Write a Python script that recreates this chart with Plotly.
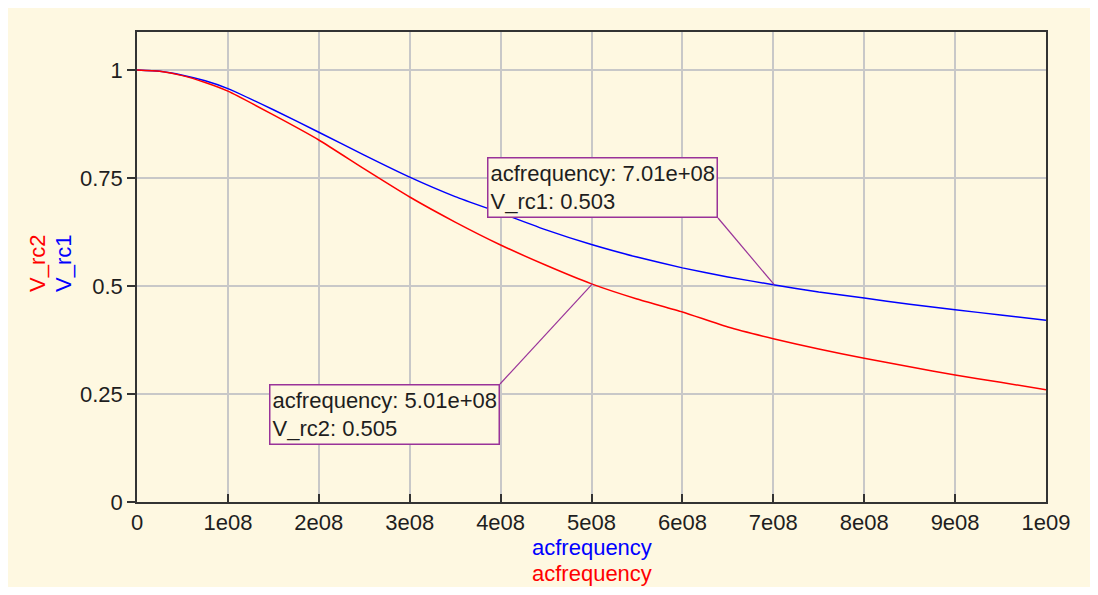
import plotly.graph_objects as go

# ---- data ----
acfrequency = [0, 0.25e8, 0.5e8, 0.75e8, 1e8, 1.5e8, 2e8, 2.5e8, 3e8, 3.5e8, 4e8, 4.5e8, 5e8,
               5.5e8, 6e8, 6.5e8, 7e8, 7.5e8, 8e8, 8.5e8, 9e8, 9.5e8, 1e9]
V_rc1 = [1.0, 0.997, 0.988, 0.975, 0.957, 0.908, 0.856, 0.803, 0.752, 0.707, 0.669, 0.630, 0.596,
         0.567, 0.542, 0.521, 0.503, 0.486, 0.472, 0.458, 0.445, 0.433, 0.421]
V_rc2 = [1.0, 0.997, 0.987, 0.971, 0.951, 0.896, 0.838, 0.771, 0.706, 0.648, 0.595, 0.548, 0.505,
         0.470, 0.440, 0.405, 0.378, 0.354, 0.333, 0.313, 0.294, 0.277, 0.260]

x_tickvals = [0, 1e8, 2e8, 3e8, 4e8, 5e8, 6e8, 7e8, 8e8, 9e8, 1e9]
x_ticktext = ["0", "1e08", "2e08", "3e08", "4e08", "5e08", "6e08", "7e08", "8e08", "9e08", "1e09"]
y_tickvals = [0, 0.25, 0.5, 0.75, 1]
y_ticktext = ["0", "0.25", "0.5", "0.75", "1"]

marker1 = (7.01e8, 0.503)   # V_rc1 marker
marker2 = (5.01e8, 0.505)   # V_rc2 marker

BG = "#FEF8E1"
FONT = "Liberation Sans, Arial, sans-serif"
FS = 22
TXT = "#1e1e1e"
BOX = "#993399"

fig = go.Figure()
fig.add_trace(go.Scatter(x=acfrequency, y=V_rc1, mode="lines", name="V_rc1",
                         line=dict(color="#0000FF", width=1.5, shape="spline", smoothing=0.5)))
fig.add_trace(go.Scatter(x=acfrequency, y=V_rc2, mode="lines", name="V_rc2",
                         line=dict(color="#FF0000", width=1.5, shape="spline", smoothing=0.5)))

# page has an 8px body margin; work in screen pixels
OFF = 8
W, H = 1098 - 2 * OFF, 595 - 2 * OFF
PL, PR, PT, PB = 137, 1046, 32, 502          # plot-area edges in screen px
L, T = PL - OFF, PT - OFF
R = W + OFF - PR
B = H + OFF - PB
ymax = 1.088

def px2paper(px, py):
    return (px - PL) / (PR - PL), (PB - py) / (PB - PT)

def px2data(px, py):
    return (px - PL) / (PR - PL) * 1e9, (PB - py) / (PB - PT) * ymax

c1 = px2data(718, 218)
c2 = px2data(500, 384)
shapes = [
    dict(type="line", xref="x", yref="y", x0=c1[0], y0=c1[1], x1=marker1[0], y1=marker1[1],
         line=dict(color=BOX, width=1.2)),
    dict(type="line", xref="x", yref="y", x0=c2[0], y0=c2[1], x1=marker2[0], y1=marker2[1],
         line=dict(color=BOX, width=1.2)),
]

annotations = [
    dict(x=c1[0], y=c1[1], xref="x", yref="y", xanchor="right", yanchor="bottom",
         text="acfrequency: 7.01e+08<br>V_rc1: %.3f" % marker1[1],
         align="left", showarrow=False, bgcolor=BG, bordercolor=BOX, borderwidth=1.5, borderpad=2,
         font=dict(family=FONT, size=FS, color=TXT)),
    dict(x=c2[0], y=c2[1], xref="x", yref="y", xanchor="right", yanchor="top",
         text="acfrequency: 5.01e+08<br>V_rc2: %.3f" % marker2[1],
         align="left", showarrow=False, bgcolor=BG, bordercolor=BOX, borderwidth=1.5, borderpad=2,
         font=dict(family=FONT, size=FS, color=TXT)),
    dict(x=px2paper(37, 0)[0], y=px2paper(0, 264)[1], xref="paper", yref="paper", text="V_rc2",
         textangle=-90, xanchor="center", yanchor="middle",
         showarrow=False, font=dict(family=FONT, size=FS, color="#FF0000")),
    dict(x=px2paper(63, 0)[0], y=px2paper(0, 264)[1], xref="paper", yref="paper", text="V_rc1",
         textangle=-90, xanchor="center", yanchor="middle",
         showarrow=False, font=dict(family=FONT, size=FS, color="#0000FF")),
    dict(x=0.5, y=px2paper(0, 547)[1], xref="paper", yref="paper", text="acfrequency",
         xanchor="center", yanchor="middle",
         showarrow=False, font=dict(family=FONT, size=FS, color="#0000FF")),
    dict(x=0.5, y=px2paper(0, 573)[1], xref="paper", yref="paper", text="acfrequency",
         xanchor="center", yanchor="middle",
         showarrow=False, font=dict(family=FONT, size=FS, color="#FF0000")),
]

fig.update_layout(
    width=W, height=H, margin=dict(l=L, r=R, t=T, b=B),
    paper_bgcolor=BG, plot_bgcolor=BG, showlegend=False,
    shapes=shapes, annotations=annotations,
    font=dict(family=FONT, size=FS, color=TXT),
)
fig.update_xaxes(range=[0, 1e9], tickvals=x_tickvals, ticktext=x_ticktext,
                 showgrid=True, gridcolor="#C8C8C8", gridwidth=1.5,
                 showline=True, linecolor="#333333", linewidth=1.5, mirror=True,
                 ticks="inside", ticklen=8, tickcolor="#333333", tickwidth=1.5,
                 zeroline=False, tickfont=dict(family=FONT, size=FS, color=TXT))
fig.update_yaxes(range=[0, ymax], tickvals=y_tickvals, ticktext=y_ticktext,
                 showgrid=True, gridcolor="#C8C8C8", gridwidth=1.5,
                 showline=True, linecolor="#333333", linewidth=1.5, mirror=True,
                 ticks="outside", ticklen=8, tickcolor="#333333", tickwidth=1.5,
                 zeroline=False, tickfont=dict(family=FONT, size=FS, color=TXT))

fig.write_html("out.html")
